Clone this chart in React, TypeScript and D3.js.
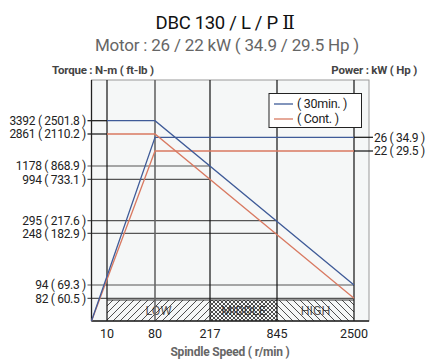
import React from "react";
import * as d3 from "d3";

const speedTicks = [10, 80, 217, 845, 2500];
const torqueTicks = [3392, 2861, 1178, 994, 295, 248, 94, 82];
const torqueTickLabels = ["3392 ( 2501.8 )", "2861 ( 2110.2 )", "1178 ( 868.9 )", "994 ( 733.1 )", "295 ( 217.6 )", "248 ( 182.9 )", "94 ( 69.3 )", "82 ( 60.5 )"];
// torque gridline extends to this speed
const torqueTickEnd = [10, 10, 217, 217, 845, 845, 2500, 2500];
const powerTicks = [26, 22];
const powerTickLabels = ["26 ( 34.9 )", "22 ( 29.5 )"];

const torque30 = [{ s: 10, v: 3392 }, { s: 80, v: 3392 }, { s: 2500, v: 94 }];
const torqueCont = [{ s: 10, v: 2861 }, { s: 80, v: 2861 }, { s: 2500, v: 82 }];
const power30 = [{ s: 0, v: 0 }, { s: 80, v: 26 }, { s: 2500, v: 26 }];
const powerCont = [{ s: 0, v: 0 }, { s: 80, v: 22 }, { s: 2500, v: 22 }];

const ranges = [
  { name: "LOW", from: 10, to: 217, pat: "hLow" },
  { name: "MIDDLE", from: 217, to: 845, pat: "hMid" },
  { name: "HIGH", from: 845, to: 2500, pat: "hHigh" },
];

const legendItems = [
  { label: "( 30min. )", color: "#3f5b98" },
  { label: "( Cont. )", color: "#d97a62" },
];

const BLUE = "#3f5b98";
const ORANGE = "#d97a62";
const FONT = "Roboto, 'Noto Sans', sans-serif";

export default function App() {
  const left = 91.5, right = 369, top = 80, bottom = 321;
  const x = d3.scaleLinear().domain([0, 10, 80, 217, 845, 2500]).range([91.5, 107, 155, 210, 277, 354]);
  const yT = d3.scaleLinear()
    .domain([0, 82, 94, 248, 295, 994, 1178, 2861, 3392])
    .range([321, 298.3, 285, 233.3, 220.7, 179.3, 166, 134, 120.7]);
  const yP = d3.scaleLinear().domain([0, 22, 26]).range([321, 151, 137.3]);

  const lineT = d3.line<{ s: number; v: number }>().x(d => x(d.s)).y(d => yT(d.v));
  const lineP = d3.line<{ s: number; v: number }>().x(d => x(d.s)).y(d => yP(d.v));

  const bandTop = 300;

  return (
    <svg width={428} height={363} style={{ position: "absolute", left: 0, top: 0, background: "#fff" }} fontFamily={FONT}>
      <defs>
        <pattern id="hLow" patternUnits="userSpaceOnUse" width={7} height={7}>
          <path d="M-1,8 L8,-1 M-1,1 L1,-1 M6,8 L8,6" stroke="#222" strokeWidth={0.8} />
        </pattern>
        <pattern id="hHigh" patternUnits="userSpaceOnUse" width={7} height={7}>
          <path d="M-1,-1 L8,8 M6,-1 L8,1 M-1,6 L1,8" stroke="#222" strokeWidth={0.8} />
        </pattern>
        <pattern id="hMid" patternUnits="userSpaceOnUse" width={4} height={4}>
          <path d="M0,0 L4,4 M4,0 L0,4" stroke="#222" strokeWidth={0.8} />
        </pattern>
      </defs>

      <text x={225} y={29} textAnchor="middle" fontSize={18.5} fill="#111" letterSpacing={-0.3}>DBC 130 / L / P <tspan fontFamily="'DejaVu Serif', serif">Ⅱ</tspan></text>
      <text x={227} y={51} textAnchor="middle" fontSize={17} fill="#666" letterSpacing={-0.2}>Motor : 26 / 22 kW ( 34.9 / 29.5 Hp )</text>
      <text x={52} y={74} fontSize={11.5} fontWeight="bold" fill="#444" letterSpacing={-0.2}>Torque : N-m ( ft-lb )</text>
      <text x={417} y={74} textAnchor="end" fontSize={11.5} fontWeight="bold" fill="#444" letterSpacing={-0.2}>Power : kW ( Hp )</text>

      {/* plot background */}
      <rect x={left} y={top} width={right - left} height={bottom - top} fill="#f5f7f7" stroke="#999" strokeWidth={1} />

      {/* hatched bands */}
      {ranges.map(r => (
        <g key={r.name}>
          <text x={(x(r.from) + x(r.to)) / 2} y={bandTop + 15} textAnchor="middle" fontSize={12.5} fill="#555">{r.name}</text>
          <rect x={x(r.from)} y={bandTop} width={x(r.to) - x(r.from)} height={bottom - bandTop} fill={`url(#${r.pat})`} />
        </g>
      ))}
      <line x1={x(10)} x2={x(2500)} y1={bandTop} y2={bandTop} stroke="#333" strokeWidth={1} />

      {/* torque gridlines */}
      {torqueTicks.map((t, i) => (
        <g key={t}>
          <line x1={left - 4} x2={x(torqueTickEnd[i])} y1={yT(t)} y2={yT(t)} stroke={i < 2 ? "#111" : "#555"} strokeWidth={1.2} />
          <text x={86} y={yT(t)} dy="0.35em" textAnchor="end" fontSize={12} fill="#222" letterSpacing={-0.3}>{torqueTickLabels[i]}</text>
        </g>
      ))}

      {/* power ticks on right */}
      {powerTicks.map((p, i) => (
        <g key={p}>
          <line x1={x(2500)} x2={right + 4} y1={yP(p)} y2={yP(p)} stroke="#111" strokeWidth={1.2} />
          <text x={374} y={yP(p)} dy="0.35em" fontSize={12} fill="#222" letterSpacing={-0.3}>{powerTickLabels[i]}</text>
        </g>
      ))}

      {/* vertical gridlines */}
      {speedTicks.map(s => (
        <g key={s}>
          <line x1={x(s)} x2={x(s)} y1={top} y2={bottom} stroke={s === 80 ? "#666" : "#111"} strokeWidth={s === 80 ? 1.6 : 1.2} />
          <text x={x(s)} y={334} dy="0.35em" textAnchor="middle" fontSize={12.5} fill="#222">{s}</text>
        </g>
      ))}

      {/* axes */}
      <line x1={left} x2={left} y1={top} y2={bottom} stroke="#222" strokeWidth={1.3} />
      <line x1={left} x2={right} y1={bottom} y2={bottom} stroke="#222" strokeWidth={1.3} />

      {/* curves */}
      <path d={lineP(powerCont) || ""} fill="none" stroke={ORANGE} strokeWidth={1.3} />
      <path d={lineP(power30) || ""} fill="none" stroke={BLUE} strokeWidth={1.3} />
      <path d={lineT(torqueCont) || ""} fill="none" stroke={ORANGE} strokeWidth={1.3} />
      <path d={lineT(torque30) || ""} fill="none" stroke={BLUE} strokeWidth={1.3} />

      {/* legend */}
      <rect x={269} y={93.5} width={92.5} height={34} fill="#fff" stroke="#222" strokeWidth={1} />
      {legendItems.map((l, i) => (
        <g key={l.label}>
          <line x1={274} x2={293} y1={104 + i * 15} y2={104 + i * 15} stroke={l.color} strokeWidth={1.3} />
          <text x={297} y={104 + i * 15} dy="0.35em" fontSize={12.5} fill="#222" letterSpacing={-0.3}>{l.label}</text>
        </g>
      ))}

      <text x={230} y={356} textAnchor="middle" fontSize={12} fontWeight="bold" fill="#666" letterSpacing={-0.2}>Spindle Speed ( r/min )</text>
    </svg>
  );
}
